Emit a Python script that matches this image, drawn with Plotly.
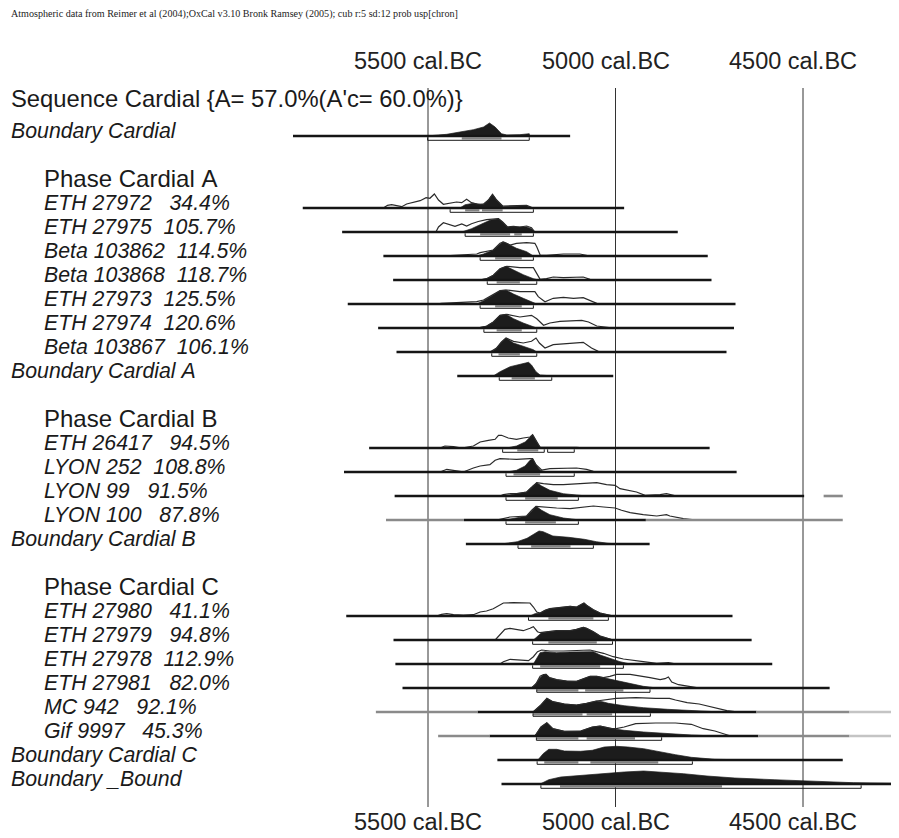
import plotly.graph_objects as go

# ---------------- data (calendar years BC, relative probability) ----------------
HEADER = "Atmospheric data from Reimer et al (2004);OxCal v3.10 Bronk Ramsey (2005); cub r:5 sd:12 prob usp[chron]"
TITLE = "Sequence Cardial {A= 57.0%(A'c= 60.0%)}"
tick_years = [5500, 5000, 4500]
tick_labels = ["5500 cal.BC", "5000 cal.BC", "4500 cal.BC"]
phase_labels = ["Phase Cardial A", "Phase Cardial B", "Phase Cardial C"]
phase_rows = [2, 12, 19]

# spans: (from, to, level) level 1 = main, 0 = faint, -1 = very faint
boundary_cardial_span = [(5860, 5121, 1)]
boundary_cardial_post = [(5504, 0), (5450, 1.7), (5415, 4), (5379, 6.3), (5352, 9), (5336, 13), (5321, 9),
                         (5304, 2.3), (5290, 1), (5255, 1.3), (5230, 2.3), (5229, 0)]
boundary_cardial_r95 = [(5501, 5230)]
boundary_cardial_r68 = [(5410, 5304)]

eth27972_span = [(5834, 4977, 1)]
eth27972_prior = [(5619, 0), (5608, 2.7), (5597, 3.3), (5584, 2), (5570, 1.3), (5557, 4), (5539, 5.3), (5521, 7.3),
                  (5505, 10.3), (5495, 9.7), (5483, 14), (5472, 8), (5459, 3.7), (5441, 4.7), (5424, 6), (5410, 5.3),
                  (5397, 8.7), (5384, 5.3), (5370, 4), (5352, 3.7), (5339, 8), (5328, 13.7), (5317, 8), (5301, 2),
                  (5272, 2), (5237, 2.7), (5224, 0.7), (5219, 0)]
eth27972_post = [(5415, 0), (5401, 3.3), (5379, 4.7), (5361, 3.7), (5352, 4), (5339, 8), (5328, 13.7), (5317, 8),
                 (5299, 1.3), (5272, 1.7), (5237, 2.3), (5224, 0)]
eth27972_r95 = [(5441, 5219)]
eth27972_r68 = [(5401, 5363), (5356, 5301)]

eth27975_span = [(5729, 4834, 1)]
eth27975_prior = [(5479, 0), (5472, 5), (5459, 9.3), (5441, 7.3), (5428, 5.7), (5410, 8), (5397, 6), (5384, 8.3),
                  (5366, 10.5), (5344, 12.3), (5312, 13.3), (5301, 10), (5288, 5), (5272, 5.7), (5255, 5), (5237, 6),
                  (5224, 4.3), (5215, 0)]
eth27975_post = [(5410, 0), (5384, 3.3), (5361, 7.3), (5335, 11.7), (5312, 13.3), (5301, 10), (5288, 5), (5272, 4.7),
                 (5255, 5), (5237, 5), (5224, 3.3), (5215, 0)]
eth27975_r95 = [(5401, 5219)]
eth27975_r68 = [(5361, 5281), (5270, 5250)]

beta103862_span = [(5619, 4754, 1)]
beta103862_prior = [(5464, 0), (5432, 0.7), (5370, 2), (5361, 3.3), (5344, 4.3), (5326, 6), (5308, 12.7), (5299, 14),
                    (5281, 11), (5264, 12.7), (5237, 13.3), (5215, 12.7), (5210, 9.3), (5201, 1), (5184, 0.7),
                    (5139, 2), (5095, 2), (5077, 0.7), (5068, 0)]
beta103862_post = [(5370, 0), (5352, 2), (5326, 6), (5312, 11), (5301, 14), (5290, 12.7), (5264, 7.7), (5237, 4.3),
                   (5219, 0)]
beta103862_r95 = [(5361, 5219)]
beta103862_r68 = [(5321, 5250)]

beta103868_span = [(5593, 4744, 1)]
beta103868_prior = [(5361, 0), (5344, 1.3), (5326, 4.7), (5308, 11.3), (5290, 13.7), (5255, 12.3), (5219, 12.3),
                    (5210, 6.3), (5201, 0.7), (5184, 1.3), (5166, 3), (5139, 2.3), (5112, 3), (5086, 3), (5068, 0.7),
                    (5059, 0)]
beta103868_post = [(5366, 0), (5344, 1.3), (5326, 4.7), (5308, 11.3), (5292, 13.7), (5272, 9.7), (5246, 5.3),
                   (5219, 1.3), (5206, 0)]
beta103868_r95 = [(5342, 5210)]
beta103868_r68 = [(5317, 5255)]

eth27973_span = [(5714, 4680, 1)]
eth27973_prior = [(5477, 0), (5464, 0.7), (5424, 1.3), (5370, 2.3), (5352, 4), (5326, 9), (5308, 13.3), (5290, 14),
                  (5255, 12.3), (5215, 12.3), (5206, 7.3), (5188, 2.3), (5166, 5.7), (5139, 6.7), (5112, 5.7),
                  (5086, 6.3), (5064, 3.3), (5050, 0.7), (5006, 0)]
eth27973_post = [(5370, 0), (5352, 3.3), (5326, 9), (5308, 13.3), (5292, 14), (5272, 10), (5246, 5.7), (5219, 1.3),
                 (5210, 0)]
eth27973_r95 = [(5361, 5219)]
eth27973_r68 = [(5321, 5250)]

eth27974_span = [(5633, 4684, 1)]
eth27974_prior = [(5370, 0), (5344, 1.7), (5326, 6), (5308, 12.7), (5290, 13.7), (5255, 11), (5224, 12.7), (5210, 9.3),
                  (5192, 2.7), (5175, 5), (5148, 6.7), (5112, 7), (5090, 7.7), (5072, 6), (5050, 2), (5006, 0)]
eth27974_post = [(5366, 0), (5344, 2), (5326, 6), (5308, 12.7), (5292, 13.7), (5272, 9.3), (5246, 5), (5219, 1),
                 (5210, 0)]
eth27974_r95 = [(5351, 5210)]
eth27974_r68 = [(5317, 5250)]

beta103867_span = [(5584, 4704, 1)]
beta103867_prior = [(5335, 0), (5317, 4), (5304, 10), (5292, 14), (5272, 10.7), (5246, 9), (5224, 10.7), (5212, 14),
                    (5203, 9), (5188, 4), (5166, 7.3), (5139, 8.3), (5112, 9), (5086, 9.7), (5064, 4), (5046, 0.7),
                    (5006, 0)]
beta103867_post = [(5330, 0), (5317, 4), (5304, 10), (5292, 14), (5272, 9), (5246, 5.7), (5219, 2.3), (5210, 0)]
beta103867_r95 = [(5330, 5210)]
beta103867_r68 = [(5312, 5255)]

boundary_a_span = [(5422, 5006, 1)]
boundary_a_post = [(5326, 0), (5308, 4.3), (5281, 9.3), (5255, 12), (5232, 13.7), (5224, 11), (5212, 4.3), (5201, 1),
                   (5166, 0)]
boundary_a_r95 = [(5310, 5170)]
boundary_a_r68 = [(5277, 5215)]

eth26417_span = [(5657, 4749, 1)]
eth26417_prior = [(5468, 0), (5455, 2), (5432, 1.3), (5410, 0), (5379, 2), (5361, 6), (5339, 7.7), (5321, 8.7),
                  (5312, 12.7), (5304, 12.7), (5286, 10), (5264, 8.7), (5246, 10), (5228, 11), (5221, 13.3),
                  (5210, 6.7), (5201, 0.7), (5175, 0.7), (5139, 1), (5104, 0.7), (5077, 0)]
eth26417_post = [(5290, 0), (5264, 2), (5241, 6), (5228, 11), (5221, 13.3), (5210, 6), (5201, 0.7), (5192, 0)]
eth26417_r95 = [(5301, 5190), (5181, 5110)]
eth26417_r68 = [(5262, 5206)]

lyon252_span = [(5724, 4677, 1)]
lyon252_prior = [(5468, 0), (5450, 2.7), (5415, 0.7), (5406, 0), (5379, 4), (5361, 6), (5335, 7.3), (5321, 11.7),
                 (5308, 13.3), (5264, 12.7), (5228, 13.3), (5221, 13.3), (5212, 7.3), (5197, 2), (5175, 3.3),
                 (5139, 4), (5104, 4), (5077, 2.7), (5059, 0.7), (5032, 0)]
lyon252_post = [(5290, 0), (5264, 1.7), (5241, 6), (5228, 11.7), (5221, 13.3), (5212, 7.3), (5201, 1.7), (5188, 0)]
lyon252_r95 = [(5292, 5110)]
lyon252_r68 = [(5272, 5201)]

lyon99_span = [(5589, 4497, 1), (4445, 4394, 0)]
lyon99_prior = [(5308, 0), (5299, 1.3), (5281, 2.3), (5264, 2.3), (5237, 4), (5219, 10.7), (5210, 13.3), (5192, 12.3),
                (5166, 11.3), (5139, 11.3), (5104, 12), (5077, 12.3), (5050, 13.3), (5024, 11.3), (5001, 10.7),
                (4988, 7.3), (4961, 5.7), (4944, 4), (4921, 0.7), (4908, 0.7), (4881, 1.3), (4864, 2.3), (4855, 1.3),
                (4837, 0)]
lyon99_post = [(5299, 0), (5272, 1.7), (5237, 4), (5224, 9), (5210, 13.3), (5197, 10), (5175, 5.7), (5139, 2.3),
               (5104, 0.7), (5077, 0)]
lyon99_r95 = [(5292, 5099)]
lyon99_r68 = [(5241, 5154)]

lyon100_span = [(5612, 5404, 0), (5404, 4919, 1), (4919, 4394, 0)]
lyon100_prior = [(5317, 0), (5299, 1.3), (5281, 3), (5237, 4), (5224, 9.7), (5212, 13.7), (5192, 13), (5157, 12),
                 (5121, 11.3), (5086, 12.7), (5059, 14), (5032, 13), (5001, 12), (4984, 9.7), (4961, 7.3),
                 (4926, 5.3), (4890, 4), (4864, 5.3), (4855, 4), (4819, 1.3), (4784, 0)]
lyon100_post = [(5295, 0), (5272, 1.3), (5237, 4), (5224, 8.7), (5212, 13.7), (5197, 9.7), (5175, 5.3), (5139, 2),
                (5095, 0)]
lyon100_r95 = [(5292, 5099)]
lyon100_r68 = [(5241, 5159)]

boundary_b_span = [(5399, 4909, 1)]
boundary_b_post = [(5304, 0), (5262, 2.3), (5236, 5.7), (5220, 9), (5204, 13), (5193, 12.3), (5167, 8), (5125, 6.7),
                   (5083, 4.7), (5051, 2.3), (5020, 0.7), (4988, 0)]
boundary_b_r95 = [(5260, 5059)]
boundary_b_r68 = [(5225, 5120)]

eth27980_span = [(5718, 4688, 1)]
eth27980_prior = [(5477, 0), (5464, 1.7), (5450, 2.3), (5432, 1.3), (5406, 1), (5379, 1.3), (5361, 4), (5344, 5),
                  (5326, 7.3), (5312, 10.7), (5299, 13), (5272, 13.3), (5246, 13.3), (5228, 13), (5219, 9),
                  (5210, 4), (5201, 3), (5188, 5.7), (5175, 7.3), (5157, 8.3), (5139, 9), (5121, 9.7), (5104, 9),
                  (5090, 11.7), (5084, 13), (5077, 10.7), (5059, 6.3), (5041, 3), (5024, 1.3), (5006, 0)]
eth27980_post = [(5228, 0), (5215, 2.3), (5201, 3), (5188, 5.7), (5175, 7.3), (5157, 8.3), (5139, 9), (5121, 9.7),
                 (5104, 9), (5090, 11.7), (5084, 13), (5077, 10.7), (5059, 6.3), (5041, 3), (5024, 1.3), (5006, 0)]
eth27980_r95 = [(5232, 5019)]
eth27980_r68 = [(5179, 5059)]

eth27979_span = [(5592, 4637, 1)]
eth27979_prior = [(5321, 0), (5308, 5), (5295, 10.7), (5281, 11.7), (5264, 10.7), (5246, 9.3), (5228, 11.7),
                  (5219, 13.3), (5208, 8.3), (5201, 7.3), (5179, 8.3), (5157, 9.3), (5139, 9.3), (5121, 9.3),
                  (5104, 10.7), (5086, 12.7), (5077, 11.7), (5059, 8.3), (5041, 4), (5024, 2.3), (5006, 0)]
eth27979_post = [(5219, 0), (5210, 3.3), (5197, 7.3), (5179, 8.3), (5157, 9.3), (5139, 9.3), (5121, 9.3),
                 (5104, 10.7), (5086, 12.7), (5077, 11.7), (5059, 8.3), (5041, 4), (5024, 2.3), (5006, 0)]
eth27979_r95 = [(5221, 5008)]
eth27979_r68 = [(5179, 5050)]

eth27978_span = [(5587, 4582, 1)]
eth27978_prior = [(5308, 0), (5299, 2.3), (5281, 4.7), (5255, 4), (5232, 3.3), (5219, 7.3), (5208, 12.3), (5197, 14),
                  (5175, 13), (5139, 13), (5104, 13.3), (5068, 14), (5032, 10.7), (5006, 7.3), (4979, 5), (4952, 3.3),
                  (4926, 2.3), (4890, 0.7), (4859, 1.3), (4837, 0)]
eth27978_post = [(5219, 0), (5208, 7.3), (5201, 11.3), (5188, 12.3), (5157, 11.3), (5121, 12), (5086, 12.3),
                 (5059, 12.3), (5041, 9), (5015, 5.7), (4988, 2.3), (4961, 0)]
eth27978_r95 = [(5221, 4979)]
eth27978_r68 = [(5201, 5041)]

eth27981_span = [(5568, 4429, 1)]
eth27981_prior = [(5224, 0), (5212, 4.3), (5201, 11.7), (5192, 13.3), (5185, 13.7), (5176, 10.3), (5157, 8.3),
                  (5130, 7), (5104, 6.7), (5086, 9.3), (5068, 11.7), (5050, 11.7), (5032, 10.3), (5015, 11.7),
                  (4997, 13.7), (4961, 13.7), (4926, 11.7), (4908, 10.3), (4881, 8.3), (4868, 9.3), (4859, 11),
                  (4850, 6), (4832, 3.3), (4810, 1.7), (4784, 0.3), (4739, 0)]
eth27981_post = [(5224, 0), (5212, 4.3), (5201, 10.3), (5192, 13.3), (5185, 13.7), (5176, 10.3), (5157, 8.3),
                 (5130, 7), (5104, 6.7), (5086, 9.3), (5068, 11.7), (5050, 11.7), (5032, 10.3), (4997, 7.7),
                 (4961, 4.3), (4926, 1.7), (4890, 0)]
eth27981_r95 = [(5210, 4908)]
eth27981_r68 = [(5210, 5099), (5081, 4979)]

mc942_span = [(5639, 5368, 0), (5368, 4624, 1), (4624, 4376, 0), (4376, 4241, -1)]
mc942_prior = [(5220, 0), (5199, 7), (5183, 13.7), (5167, 10.3), (5136, 8), (5104, 7), (5077, 8.7), (5051, 11),
               (4998, 13.7), (4946, 14.3), (4893, 13.7), (4856, 13.7), (4840, 12), (4809, 9.3), (4777, 8), (4756, 6),
               (4735, 3.7), (4703, 1.3), (4672, 0)]
mc942_post = [(5220, 0), (5199, 7), (5183, 13.7), (5167, 10.3), (5136, 8), (5104, 7), (5077, 8.7), (5051, 11),
              (5035, 10.3), (5019, 8.7), (4977, 6.3), (4925, 4.3), (4861, 2.7), (4798, 1.3), (4735, 0.3), (4682, 0)]
mc942_r95 = [(5220, 4907)]
mc942_r68 = [(5220, 5088), (5077, 5009)]

gif9997_span = [(5473, 5336, 0), (5336, 4619, 1), (4619, 4376, 0), (4376, 4263, -1)]
gif9997_prior = [(5215, 0), (5199, 9), (5183, 13.3), (5167, 7.3), (5136, 4.7), (5093, 5), (5062, 9), (5041, 10),
                 (5009, 7.3), (4998, 7.3), (4977, 9), (4946, 12.3), (4893, 13), (4840, 13), (4798, 11.7),
                 (4766, 7.3), (4735, 5), (4708, 1.7), (4693, 0)]
gif9997_post = [(5215, 0), (5199, 9), (5183, 13.3), (5167, 7.3), (5136, 4.7), (5093, 5), (5062, 9), (5041, 10),
                (5009, 7.3), (4977, 5.7), (4925, 4), (4861, 2.3), (4798, 1), (4735, 0)]
gif9997_r95 = [(5211, 4877)]
gif9997_r68 = [(5211, 5099), (5077, 4948)]

boundary_c_span = [(5315, 4394, 1)]
boundary_c_post = [(5207, 0), (5193, 6.3), (5178, 10.7), (5157, 10.7), (5136, 9), (5093, 8.7), (5062, 9.7),
                   (5030, 13), (4998, 13.7), (4967, 13), (4925, 11.3), (4882, 8), (4840, 5.3), (4798, 2.7),
                   (4735, 0.7), (4629, 0)]
boundary_c_r95 = [(5209, 4795)]
boundary_c_r68 = [(5190, 5099), (5067, 4886)]

boundary_bound_span = [(5304, 4244, 1)]
boundary_bound_post = [(5201, 0), (5178, 4.3), (5146, 7), (5093, 8.7), (5030, 10.3), (4977, 12), (4925, 13),
                       (4872, 12), (4819, 10.3), (4756, 8), (4682, 6), (4577, 4.3), (4471, 2.7), (4366, 1.3),
                       (4244, 0.7)]
boundary_bound_r95 = [(5199, 4345)]
boundary_bound_r68 = [(5148, 4716)]

# (label, row, indented, span, prior, posterior, 95% ranges, 68% ranges)
items = [
    ("Boundary Cardial", 0, False, boundary_cardial_span, None, boundary_cardial_post, boundary_cardial_r95, boundary_cardial_r68),
    ("ETH 27972   34.4%", 3, True, eth27972_span, eth27972_prior, eth27972_post, eth27972_r95, eth27972_r68),
    ("ETH 27975  105.7%", 4, True, eth27975_span, eth27975_prior, eth27975_post, eth27975_r95, eth27975_r68),
    ("Beta 103862  114.5%", 5, True, beta103862_span, beta103862_prior, beta103862_post, beta103862_r95, beta103862_r68),
    ("Beta 103868  118.7%", 6, True, beta103868_span, beta103868_prior, beta103868_post, beta103868_r95, beta103868_r68),
    ("ETH 27973  125.5%", 7, True, eth27973_span, eth27973_prior, eth27973_post, eth27973_r95, eth27973_r68),
    ("ETH 27974  120.6%", 8, True, eth27974_span, eth27974_prior, eth27974_post, eth27974_r95, eth27974_r68),
    ("Beta 103867  106.1%", 9, True, beta103867_span, beta103867_prior, beta103867_post, beta103867_r95, beta103867_r68),
    ("Boundary Cardial A", 10, False, boundary_a_span, None, boundary_a_post, boundary_a_r95, boundary_a_r68),
    ("ETH 26417   94.5%", 13, True, eth26417_span, eth26417_prior, eth26417_post, eth26417_r95, eth26417_r68),
    ("LYON 252  108.8%", 14, True, lyon252_span, lyon252_prior, lyon252_post, lyon252_r95, lyon252_r68),
    ("LYON 99   91.5%", 15, True, lyon99_span, lyon99_prior, lyon99_post, lyon99_r95, lyon99_r68),
    ("LYON 100   87.8%", 16, True, lyon100_span, lyon100_prior, lyon100_post, lyon100_r95, lyon100_r68),
    ("Boundary Cardial B", 17, False, boundary_b_span, None, boundary_b_post, boundary_b_r95, boundary_b_r68),
    ("ETH 27980   41.1%", 20, True, eth27980_span, eth27980_prior, eth27980_post, eth27980_r95, eth27980_r68),
    ("ETH 27979   94.8%", 21, True, eth27979_span, eth27979_prior, eth27979_post, eth27979_r95, eth27979_r68),
    ("ETH 27978  112.9%", 22, True, eth27978_span, eth27978_prior, eth27978_post, eth27978_r95, eth27978_r68),
    ("ETH 27981   82.0%", 23, True, eth27981_span, eth27981_prior, eth27981_post, eth27981_r95, eth27981_r68),
    ("MC 942   92.1%", 24, True, mc942_span, mc942_prior, mc942_post, mc942_r95, mc942_r68),
    ("Gif 9997   45.3%", 25, True, gif9997_span, gif9997_prior, gif9997_post, gif9997_r95, gif9997_r68),
    ("Boundary Cardial C", 26, False, boundary_c_span, None, boundary_c_post, boundary_c_r95, boundary_c_r68),
    ("Boundary _Bound", 27, False, boundary_bound_span, None, boundary_bound_post, boundary_bound_r95, boundary_bound_r68),
]

# ---------------- layout helpers ----------------
W, H = 899, 838
PAGE_OFF = 8                         # default page margin of the html body
PX_ROW = 24.0                        # pixels per row
ROW0_PX = 136.0                      # screen pixel y of row 0
YR_PER_PX = 500.0 / 187.5
X_LEFT = 5500 + (428 - PAGE_OFF) * YR_PER_PX
X_RIGHT = X_LEFT - W * YR_PER_PX


def prow(py):
    return (py - ROW0_PX) / PX_ROW


def off(px):
    return px / PX_ROW


def xpaper(sx):
    return (sx - PAGE_OFF) / W


SANS = "Liberation Sans, Arial, Helvetica, sans-serif"
SERIF = "Liberation Serif, Times New Roman, serif"
span_colors = {1: "#151515", 0: "#8a8a8a", -1: "#c4c4c4"}

fig = go.Figure()

# posterior fills
fx, fy = [], []
for _, row, _, span, prior, post, r95, r68 in items:
    fx += [p[0] for p in post] + [post[-1][0], post[0][0], None]
    fy += [row - off(p[1]) for p in post] + [row, row, None]
fig.add_trace(go.Scatter(x=fx, y=fy, mode="lines", fill="toself", fillcolor="#1c1c1c",
                         line=dict(color="#1c1c1c", width=0.7), hoverinfo="skip"))

# prior outlines
px_, py_ = [], []
for _, row, _, span, prior, post, r95, r68 in items:
    if prior:
        px_ += [p[0] for p in prior] + [None]
        py_ += [row - off(p[1]) for p in prior] + [None]
fig.add_trace(go.Scatter(x=px_, y=py_, mode="lines", line=dict(color="#2a2a2a", width=1.2),
                         hoverinfo="skip"))

# baselines by level
for lvl, col in span_colors.items():
    bx, by = [], []
    for _, row, _, span, prior, post, r95, r68 in items:
        for a, b, lv in span:
            if lv == lvl:
                bx += [a, b, None]
                by += [row, row, None]
    if bx:
        fig.add_trace(go.Scatter(x=bx, y=by, mode="lines", line=dict(color=col, width=2.6),
                                 hoverinfo="skip"))

# 68% ranges (grey bars)
gx, gy = [], []
for _, row, _, span, prior, post, r95, r68 in items:
    for a, b in r68:
        gx += [a, b, None]
        gy += [row + off(2.2), row + off(2.2), None]
fig.add_trace(go.Scatter(x=gx, y=gy, mode="lines", line=dict(color="#828282", width=2.4),
                         hoverinfo="skip"))

# 95% ranges (thin bracket)
kx, ky = [], []
for _, row, _, span, prior, post, r95, r68 in items:
    for a, b in r95:
        kx += [a, a, b, b, None]
        ky += [row + off(1.3), row + off(4.3), row + off(4.3), row + off(1.3), None]
fig.add_trace(go.Scatter(x=kx, y=ky, mode="lines", line=dict(color="#1a1a1a", width=1),
                         hoverinfo="skip"))

# vertical reference lines
for yr in tick_years:
    fig.add_shape(type="line", xref="x", yref="y", x0=yr, x1=yr, y0=prow(88), y1=prow(807),
                  line=dict(color="#333333", width=1), layer="below")

annotations = []
for yr, lab in zip(tick_years, tick_labels):
    for py in (61, 822):
        annotations.append(dict(x=yr, y=prow(py), xref="x", yref="y", text=lab, showarrow=False,
                                xanchor="center", yanchor="middle", xshift=-10,
                                font=dict(family=SANS, size=23.5, color="#222222")))

nb = lambda s: s.replace(" ", "\u00a0")

annotations.append(dict(x=xpaper(9), y=prow(14), xref="paper", yref="y", text=nb(HEADER), showarrow=False,
                        xanchor="left", yanchor="middle", font=dict(family=SERIF, size=10.1, color="#222222")))
annotations.append(dict(x=xpaper(9), y=prow(98.5), xref="paper", yref="y", text=nb(TITLE), showarrow=False,
                        xanchor="left", yanchor="middle", font=dict(family=SANS, size=23.8, color="#1a1a1a")))
for lab, row in zip(phase_labels, phase_rows):
    annotations.append(dict(x=xpaper(42), y=row - off(5.3), xref="paper", yref="y", text=nb(lab),
                            showarrow=False, xanchor="left", yanchor="middle",
                            font=dict(family=SANS, size=24, color="#1a1a1a")))
for lab, row, indent, *_ in items:
    annotations.append(dict(x=xpaper(42 if indent else 9), y=row - off(5.3), xref="paper", yref="y",
                            text="<i>" + nb(lab) + "</i>", showarrow=False, xanchor="left", yanchor="middle",
                            font=dict(family=SANS, size=21.3, color="#1a1a1a")))

fig.update_layout(
    width=W, height=H, margin=dict(l=0, r=0, t=0, b=0),
    paper_bgcolor="white", plot_bgcolor="white", showlegend=False,
    xaxis=dict(range=[X_LEFT, X_RIGHT], visible=False, fixedrange=True),
    yaxis=dict(range=[prow(H + PAGE_OFF), prow(PAGE_OFF)], visible=False, fixedrange=True),
    annotations=annotations,
)

fig.write_html("out.html")
